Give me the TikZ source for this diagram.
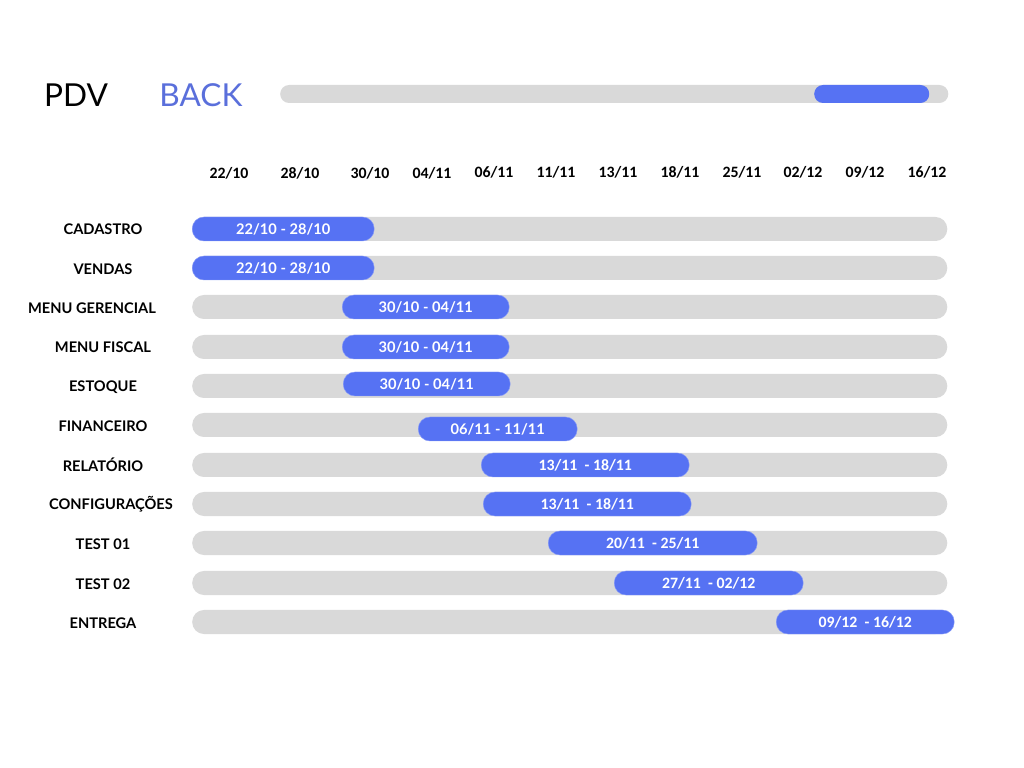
\documentclass[tikz,border=0pt]{standalone}
\usepackage{fontspec}
\setmainfont{Lato}
\newfontfamily\calib{Carlito}
\usepackage{xcolor}
\usetikzlibrary{positioning}
\definecolor{trackgray}{HTML}{D9D9D9}
\definecolor{barblue}{HTML}{5672F3}
\definecolor{backblue}{HTML}{5A6FDB}

\begin{document}
\begin{tikzpicture}[x=0.03cm, y=-0.03cm]
  % pixel grid: 1024 x 768, y runs downwards
  \tikzstyle{track} = [rectangle, rounded corners=10pt, fill=trackgray, minimum height=0.72cm, anchor=west, inner sep=0pt]
  \tikzstyle{task} = [rectangle, rounded corners=10pt, fill=barblue, draw=barblue!70!white, minimum height=0.72cm, anchor=west, inner sep=0pt, text=white, font=\fontsize{12.5}{14}\selectfont\bfseries]
  \tikzstyle{taskc} = [task, font=\fontsize{13.5}{15}\selectfont\calib\bfseries]
  \tikzstyle{rowlabel} = [font=\fontsize{12.5}{14}\selectfont\bfseries, inner sep=0pt]
  \tikzstyle{datelabel} = [font=\fontsize{13.5}{15}\selectfont\calib\bfseries, inner sep=0pt]
  \useasboundingbox (0,0) rectangle (1024,768);

  % Header
  \node[font=\fontsize{27}{30}\selectfont] (pdv) at (76,95) {PDV};
  \node[font=\fontsize{27}{30}\selectfont, text=backblue] (back) at (201,95) {BACK};
  \node[track, minimum width=20.04cm, minimum height=0.54cm, rounded corners=7.5pt] (scroll) at (280,94) {};
  \node[track, fill=barblue, minimum width=3.45cm, minimum height=0.54cm, rounded corners=7.5pt] (thumb) at (814,94) {};

  % Timeline dates
  \node[datelabel] (d1) at (229,173) {22/10};
  \node[datelabel] (d2) at (300,173) {28/10};
  \node[datelabel] (d3) at (370,173) {30/10};
  \node[datelabel] (d4) at (432,173) {04/11};
  \node[datelabel] (d5) at (494,172) {06/11};
  \node[datelabel] (d6) at (556,172) {11/11};
  \node[datelabel] (d7) at (618,172) {13/11};
  \node[datelabel] (d8) at (680,172) {18/11};
  \node[datelabel] (d9) at (742,172) {25/11};
  \node[datelabel] (d10) at (803,172) {02/12};
  \node[datelabel] (d11) at (865,172) {09/12};
  \node[datelabel] (d12) at (927,172) {16/12};

  % Row labels
  \node[rowlabel] (lcad) at (103,229) {CADASTRO};
  \node[rowlabel] (lven) at (103,269) {VENDAS};
  \node[rowlabel] (lger) at (92,308) {MENU GERENCIAL};
  \node[rowlabel] (lfis) at (103,347) {MENU FISCAL};
  \node[rowlabel] (lest) at (103,387) {ESTOQUE};
  \node[rowlabel] (lfin) at (103,426) {FINANCEIRO};
  \node[rowlabel] (lrel) at (103,465) {RELATÓRIO};
  \node[rowlabel] (lcon) at (111,504) {CONFIGURAÇÕES};
  \node[rowlabel] (lt1) at (103,544) {TEST 01};
  \node[rowlabel] (lt2) at (103,584) {TEST 02};
  \node[rowlabel] (lent) at (103,623) {ENTREGA};

  % Tracks
  \foreach \n/\y in {cad/229, ven/268, ger/307, fis/347, est/386, fin/425, rel/465, con/504, t1/543, t2/583, ent/622}
    \node[track, minimum width=22.65cm] (tr\n) at (192,\y) {};

  % Tasks
  \node[task, minimum width=5.46cm] (bcad) at (192,229) {22/10 - 28/10};
  \node[task, minimum width=5.46cm] (bven) at (192,268) {22/10 - 28/10};
  \node[task, minimum width=5.01cm] (bger) at (342,307) {30/10 - 04/11};
  \node[task, minimum width=5.01cm] (bfis) at (342,347) {30/10 - 04/11};
  \node[task, minimum width=5.01cm] (best) at (343,384) {30/10 - 04/11};
  \node[task, minimum width=4.77cm] (bfin) at (418,429) {06/11 - 11/11};
  \node[taskc, minimum width=6.24cm] (brel) at (481,465) {13/11 \ - 18/11};
  \node[taskc, minimum width=6.24cm] (bcon) at (483,504) {13/11 \ - 18/11};
  \node[taskc, minimum width=6.27cm] (bt1) at (548,543) {20/11 \ - 25/11};
  \node[taskc, minimum width=5.67cm] (bt2) at (614,583) {27/11 \ - 02/12};
  \node[taskc, minimum width=5.34cm] (bent) at (776,622) {09/12 \ - 16/12};

\end{tikzpicture}
\end{document}
